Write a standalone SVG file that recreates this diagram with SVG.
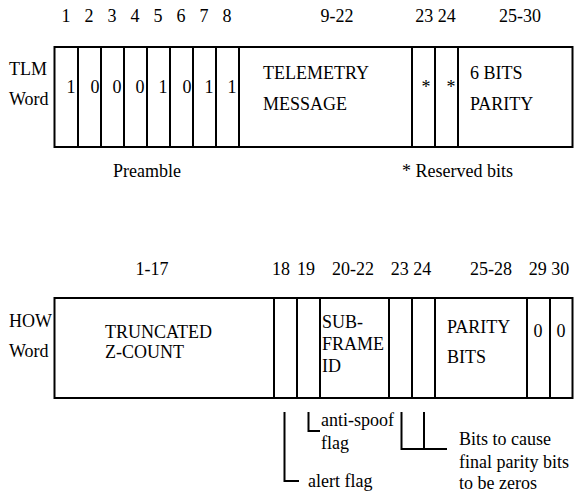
<svg xmlns="http://www.w3.org/2000/svg" width="574" height="492" viewBox="0 0 574 492">
<style>
.t{font-family:"Liberation Serif",serif;font-size:18px;fill:#000}
.m{text-anchor:middle}
.box{fill:#fff;stroke:#000;stroke-width:2}
.div{stroke:#000;stroke-width:2}
.ln{fill:none;stroke:#000;stroke-width:2}
</style>
<rect width="574" height="492" fill="#fff"/>
<g id="tlm">
<text class="t" x="9" y="75">TLM</text>
<text class="t" x="9" y="105">Word</text>
<text class="t m" x="66" y="22">1</text><text class="t m" x="89" y="22">2</text><text class="t m" x="112" y="22">3</text><text class="t m" x="135" y="22">4</text><text class="t m" x="158" y="22">5</text><text class="t m" x="181" y="22">6</text><text class="t m" x="204" y="22">7</text><text class="t m" x="227" y="22">8</text>
<text class="t m" x="337" y="22">9-22</text>
<text class="t m" x="435.5" y="22">23 24</text>
<text class="t m" x="520" y="22">25-30</text>
<rect class="box" x="54.5" y="47" width="518" height="100"/>
<path class="div" d="M78 47V147M101 47V147M124 47V147M147 47V147M170 47V147M193 47V147M216 47V147M239 47V147M412 47V147M435 47V147M458 47V147"/>
<text class="t m" x="71" y="93">1</text><text class="t m" x="95" y="93">0</text><text class="t m" x="117" y="93">0</text><text class="t m" x="140" y="93">0</text><text class="t m" x="163" y="93">1</text><text class="t m" x="187" y="93">0</text><text class="t m" x="209" y="93">1</text><text class="t m" x="232" y="93">1</text>
<text class="t" x="263" y="79">TELEMETRY</text>
<text class="t" x="263" y="110">MESSAGE</text>
<text class="t m" x="426" y="93">*</text><text class="t m" x="451" y="93">*</text>
<text class="t" x="470" y="79">6 BITS</text>
<text class="t" x="470" y="110">PARITY</text>
<text class="t m" x="147" y="177">Preamble</text>
<text class="t" x="402" y="177">* Reserved bits</text>
</g>
<g id="how">
<text class="t" x="9" y="327">HOW</text>
<text class="t" x="9" y="357">Word</text>
<text class="t m" x="152" y="275">1-17</text>
<text class="t m" x="281" y="275">18</text>
<text class="t m" x="306" y="275">19</text>
<text class="t m" x="353" y="275">20-22</text>
<text class="t m" x="411" y="275">23 24</text>
<text class="t m" x="491" y="275">25-28</text>
<text class="t m" x="549" y="275">29 30</text>
<rect class="box" x="54.5" y="298" width="518" height="100"/>
<path class="div" d="M274 298V398M297 298V398M320 298V398M389 298V398M412 298V398M435 298V398M527 298V398M550 298V398"/>
<text class="t" x="105" y="338">TRUNCATED</text>
<text class="t" x="105" y="358">Z-COUNT</text>
<text class="t" x="322" y="328">SUB-</text>
<text class="t" x="322" y="350">FRAME</text>
<text class="t" x="322" y="372">ID</text>
<text class="t" x="447" y="333">PARITY</text>
<text class="t" x="447" y="363">BITS</text>
<text class="t m" x="538" y="337">0</text>
<text class="t m" x="561" y="337">0</text>
</g>
<g id="connectors">
<path class="ln" d="M284.5 412V481H299"/>
<path class="ln" d="M308.5 412V431H320"/>
<path class="ln" d="M401.5 412V449H447M424 412V449"/>
</g>
<g id="notes">
<text class="t" x="308" y="487">alert flag</text>
<text class="t" x="321" y="426">anti-spoof</text>
<text class="t" x="321" y="449">flag</text>
<text class="t" x="459" y="445">Bits to cause</text>
<text class="t" x="459" y="468">final parity bits</text>
<text class="t" x="459" y="489">to be zeros</text>
</g>
</svg>
